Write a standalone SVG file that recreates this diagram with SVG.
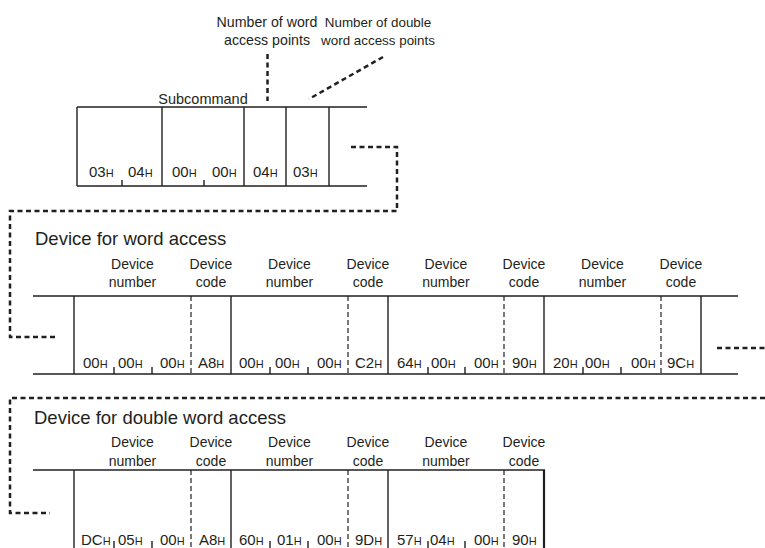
<svg xmlns="http://www.w3.org/2000/svg" width="765" height="548" viewBox="0 0 765 548">
<style>
text{font-family:"Liberation Sans",Arial,sans-serif;fill:#231f20}
.lbl{font-size:14.2px;text-anchor:middle}
.lbl2{font-size:13.4px;text-anchor:middle}
.sub{font-size:14.5px;text-anchor:middle}
.dl{font-size:14px;text-anchor:middle}
.ttl{font-size:18.5px}
.hx{font-size:15px}
.h{font-size:11px}
.s{stroke:#231f20;stroke-width:1.4;fill:none}
.sb{stroke:#231f20;stroke-width:2.2;fill:none}
.d{stroke:#231f20;stroke-width:1.2;stroke-dasharray:5 3;fill:none}
.c{stroke:#231f20;stroke-width:2.5;stroke-dasharray:5 3.5;fill:none}
</style>

<g id="label-word-points">
<text class="lbl" x="267" y="27">Number of word</text>
<text class="lbl" x="267" y="45">access points</text>
</g>
<g id="label-dword-points">
<text class="lbl2" x="378" y="27">Number of double</text>
<text class="lbl2" x="378" y="45">word access points</text>
</g>

<g id="subcommand-frame">
<text class="sub" x="203" y="104">Subcommand</text>
<path class="s" d="M77 107H367M77 186H367M77 107V186M162 107V186M244 107V186M286 107V186M329 107V186"/>
<path class="s" d="M122 180V186M204 180V186"/>
<text class="hx" x="89" y="177">03<tspan class="h">H</tspan></text>
<text class="hx" x="128" y="177">04<tspan class="h">H</tspan></text>
<text class="hx" x="172" y="177">00<tspan class="h">H</tspan></text>
<text class="hx" x="212" y="177">00<tspan class="h">H</tspan></text>
<text class="hx" x="253" y="177">04<tspan class="h">H</tspan></text>
<text class="hx" x="293" y="177">03<tspan class="h">H</tspan></text>
</g>

<g id="word-device-frame">
<text class="ttl" x="35" y="245">Device for word access</text>
<text class="dl" x="132.5" y="269">Device</text><text class="dl" x="132.5" y="287">number</text>
<text class="dl" x="211" y="269">Device</text><text class="dl" x="211" y="287">code</text>
<text class="dl" x="289.5" y="269">Device</text><text class="dl" x="289.5" y="287">number</text>
<text class="dl" x="368" y="269">Device</text><text class="dl" x="368" y="287">code</text>
<text class="dl" x="446" y="269">Device</text><text class="dl" x="446" y="287">number</text>
<text class="dl" x="524" y="269">Device</text><text class="dl" x="524" y="287">code</text>
<text class="dl" x="602.5" y="269">Device</text><text class="dl" x="602.5" y="287">number</text>
<text class="dl" x="681" y="269">Device</text><text class="dl" x="681" y="287">code</text>
<path class="s" d="M33 296H738M33 374H738M74 296V374M231 296V374M388 296V374M544 296V374M701 296V374"/>
<path class="d" d="M191 296V374M348 296V374M504 296V374M661 296V374"/>
<path class="s" d="M114 367V374M152 367V374M270 367V374M308 367V374M428 367V374M465 367V374M583 367V374M621 367V374"/>
<text class="hx" x="83" y="368">00<tspan class="h">H</tspan></text>
<text class="hx" x="118" y="368">00<tspan class="h">H</tspan></text>
<text class="hx" x="160" y="368">00<tspan class="h">H</tspan></text>
<text class="hx" x="198" y="368">A8<tspan class="h">H</tspan></text>
<text class="hx" x="239" y="368">00<tspan class="h">H</tspan></text>
<text class="hx" x="275" y="368">00<tspan class="h">H</tspan></text>
<text class="hx" x="317" y="368">00<tspan class="h">H</tspan></text>
<text class="hx" x="355" y="368">C2<tspan class="h">H</tspan></text>
<text class="hx" x="397" y="368">64<tspan class="h">H</tspan></text>
<text class="hx" x="431" y="368">00<tspan class="h">H</tspan></text>
<text class="hx" x="474" y="368">00<tspan class="h">H</tspan></text>
<text class="hx" x="512" y="368">90<tspan class="h">H</tspan></text>
<text class="hx" x="553" y="368">20<tspan class="h">H</tspan></text>
<text class="hx" x="585" y="368">00<tspan class="h">H</tspan></text>
<text class="hx" x="631" y="368">00<tspan class="h">H</tspan></text>
<text class="hx" x="667" y="368">9C<tspan class="h">H</tspan></text>
</g>

<g id="dword-device-frame">
<text class="ttl" x="34" y="424">Device for double word access</text>
<text class="dl" x="132.5" y="447">Device</text><text class="dl" x="132.5" y="466">number</text>
<text class="dl" x="211" y="447">Device</text><text class="dl" x="211" y="466">code</text>
<text class="dl" x="289.5" y="447">Device</text><text class="dl" x="289.5" y="466">number</text>
<text class="dl" x="368" y="447">Device</text><text class="dl" x="368" y="466">code</text>
<text class="dl" x="446" y="447">Device</text><text class="dl" x="446" y="466">number</text>
<text class="dl" x="524" y="447">Device</text><text class="dl" x="524" y="466">code</text>
<path class="s" d="M33 470H545M74 470V549M231 470V549M388 470V549"/>
<path class="sb" d="M544 470V549"/>
<path class="d" d="M191 470V548M348 470V548M504 470V548"/>
<path class="s" d="M114 541V548M152 541V548M270 541V548M308 541V548M428 541V548M465 541V548"/>
<text class="hx" x="81" y="545">DC<tspan class="h">H</tspan></text>
<text class="hx" x="118" y="545">05<tspan class="h">H</tspan></text>
<text class="hx" x="160" y="545">00<tspan class="h">H</tspan></text>
<text class="hx" x="199" y="545">A8<tspan class="h">H</tspan></text>
<text class="hx" x="239" y="545">60<tspan class="h">H</tspan></text>
<text class="hx" x="277" y="545">01<tspan class="h">H</tspan></text>
<text class="hx" x="317" y="545">00<tspan class="h">H</tspan></text>
<text class="hx" x="355" y="545">9D<tspan class="h">H</tspan></text>
<text class="hx" x="397" y="545">57<tspan class="h">H</tspan></text>
<text class="hx" x="430" y="545">04<tspan class="h">H</tspan></text>
<text class="hx" x="474" y="545">00<tspan class="h">H</tspan></text>
<text class="hx" x="512" y="545">90<tspan class="h">H</tspan></text>
</g>

<g id="connectors">
<path class="c" d="M267.5 54V101"/>
<path class="c" d="M383 57L309 99"/>
<path class="c" d="M351 147H397V211H10V337H57"/>
<path class="c" d="M717 348H765"/>
<path class="c" d="M765 398H10V513H50"/>
</g>
</svg>
